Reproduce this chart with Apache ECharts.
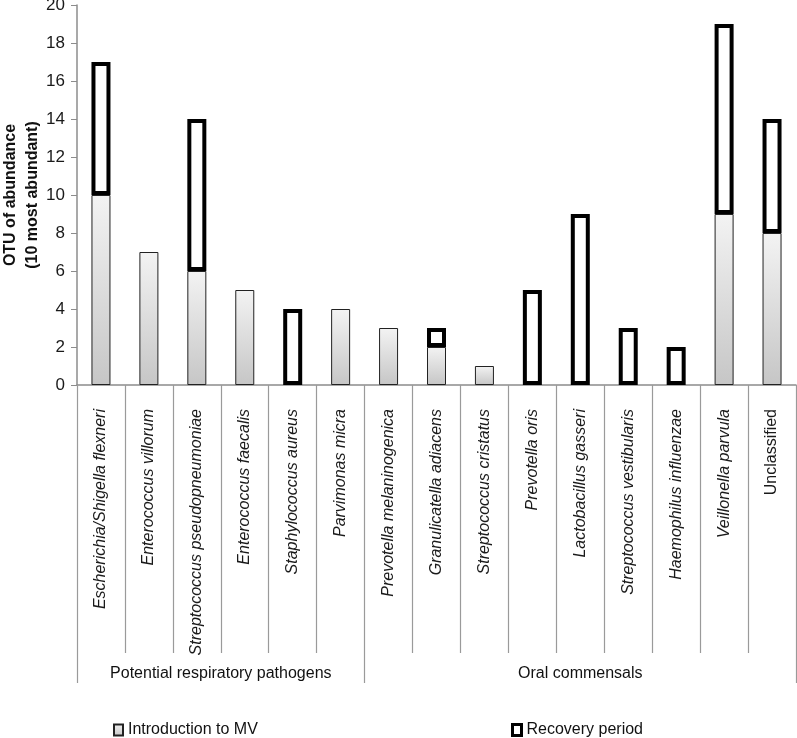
<!DOCTYPE html>
<html>
<head>
<meta charset="utf-8">
<script src="https://cdn.jsdelivr.net/npm/echarts@6/dist/echarts.min.js"></script>
<style>html,body{margin:0;padding:0;background:#fff}#c{width:797px;height:738px}</style>
</head>
<body>
<div id="c"></div>
<script>
const categories = [
  'Escherichia/Shigella flexneri', 'Enterococcus villorum', 'Streptococcus pseudopneumoniae',
  'Enterococcus faecalis', 'Staphylococcus aureus', 'Parvimonas micra',
  'Prevotella melaninogenica', 'Granulicatella adiacens', 'Streptococcus cristatus',
  'Prevotella oris', 'Lactobacillus gasseri', 'Streptococcus vestibularis',
  'Haemophilus influenzae', 'Veillonella parvula', 'Unclassified'
];
const introductionMV = [10, 7, 6, 5, 0, 4, 3, 2, 1, 0, 0, 0, 0, 9, 8];
const recoveryPeriod = [7, 0, 8, 0, 4, 0, 0, 1, 0, 5, 9, 3, 2, 10, 6];
const yTicks = [0, 2, 4, 6, 8, 10, 12, 14, 16, 18, 20];
const groupNames = ['Potential respiratory pathogens', 'Oral commensals'];
const groupSizes = [6, 9];

const groupBounds = [0, groupSizes[0], groupSizes[0] + groupSizes[1]];
const groupCenters = [groupSizes[0] / 2, groupSizes[0] + groupSizes[1] / 2];

const font = 'Liberation Sans, Arial, sans-serif';
const chart = echarts.init(document.getElementById('c'));
const toBar = v => (v === 0 ? '-' : v);

chart.setOption({
  animation: false,
  textStyle: { fontFamily: font },
  grid: { left: 77, top: 5, width: 719, height: 380, outerBoundsMode: 'none', containLabel: false },
  legend: [
    {
      left: 108, top: 717, itemWidth: 9, itemHeight: 11, itemGap: 10,
      textStyle: { fontSize: 16, color: '#111', fontFamily: font },
      data: [{ name: 'Introduction to MV', icon: 'rect' }]
    },
    {
      left: 506, top: 717, itemWidth: 9, itemHeight: 11,
      textStyle: { fontSize: 16, color: '#111', fontFamily: font },
      data: [{ name: 'Recovery period', icon: 'rect', itemStyle: { borderWidth: 3, borderColor: '#000', color: '#fff' } }]
    }
  ],
  xAxis: [
    {
      type: 'category',
      data: categories.map(c => ({
        value: c,
        textStyle: { fontStyle: c === 'Unclassified' ? 'normal' : 'italic' }
      })),
      axisLine: { lineStyle: { color: '#8c8c8c', width: 1.5 } },
      axisTick: { show: true, length: 268, lineStyle: { color: '#9a9a9a', width: 1.2 } },
      axisLabel: { interval: 0, rotate: 90, margin: 24, fontSize: 16, color: '#1a1a1a', fontFamily: font }
    },
    {
      type: 'value',
      min: 0, max: 15,
      position: 'bottom',
      offset: 268,
      axisLine: { show: false },
      splitLine: { show: false },
      axisTick: { show: true, customValues: groupBounds, length: 30, lineStyle: { color: '#9a9a9a', width: 1.2 } },
      axisLabel: {
        customValues: groupCenters, margin: 13, fontSize: 16, color: '#111', fontFamily: font,
        formatter: v => groupNames[groupCenters.indexOf(v)] || ''
      }
    }
  ],
  yAxis: {
    type: 'value',
    min: yTicks[0], max: yTicks[yTicks.length - 1], interval: 2,
    name: 'OTU of abundance\n(10 most abundant)',
    nameLocation: 'middle', nameGap: 33, nameMoveOverlap: false,
    nameTextStyle: { fontSize: 16, fontWeight: 'bold', color: '#111', lineHeight: 22, fontFamily: font },
    axisLine: { show: true, lineStyle: { color: '#8c8c8c', width: 1.5 } },
    axisTick: { show: true, length: 6, lineStyle: { color: '#8c8c8c' } },
    splitLine: { show: false },
    axisLabel: { fontSize: 17, color: '#1a1a1a', margin: 12, fontFamily: font }
  },
  series: [
    {
      name: 'Introduction to MV',
      type: 'bar', stack: 'a', barWidth: 19,
      data: introductionMV.map(toBar),
      itemStyle: {
        color: new echarts.graphic.LinearGradient(0, 0, 0, 1, [
          { offset: 0, color: '#f3f3f3' },
          { offset: 1, color: '#c6c6c6' }
        ]),
        borderColor: '#222', borderWidth: 1
      }
    },
    {
      name: 'Recovery period',
      type: 'bar', stack: 'a', barWidth: 19,
      data: recoveryPeriod.map(toBar),
      itemStyle: { color: '#fff', borderColor: '#000', borderWidth: 4 }
    }
  ]
});
</script>
</body>
</html>
